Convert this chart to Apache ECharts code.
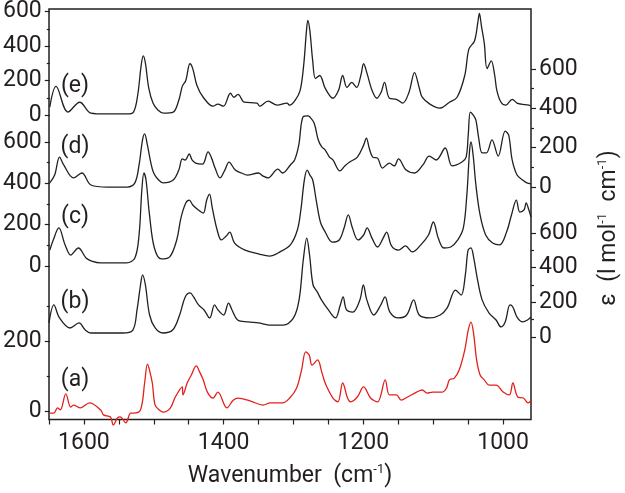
<!DOCTYPE html>
<html><head><meta charset="utf-8">
<script src="https://cdn.jsdelivr.net/npm/echarts@6/dist/echarts.min.js"></script>
<style>html,body{margin:0;padding:0;background:#fff}#c{width:625px;height:493px}</style>
</head><body><div id="c"></div>
<script>
// ---- data (wavenumber in cm-1, values in units of the axis each trace uses) ----
const traceNames = ['(e)', '(d)', '(c)', '(b)', '(a)'];
const xLabelValues = [1000, 1200, 1400, 1600];
const xTickValues = [1000, 1050, 1100, 1150, 1200, 1250, 1300, 1350, 1400, 1450, 1500, 1550, 1600, 1650];
const leftMajorTicks = [0, 200, 400, 600];
const leftMinorTicks = [100, 300, 500];
const bottomMajorTicks = [0, 200];
const bottomMinorTicks = [100, 300];

const waveE = [1650,1641,1624,1607,1591,1570,1540,1530,1524,1519,1516,1513,1508,1502,1495,1487,1473,1465,1460,1455,1449,1445,1439,1430,1416,1409,1401,1391,1386,1380,1371,1353,1349,1337,1324,1310,1306,1298,1291,1286,1282,1280,1277,1273,1269,1263,1255,1244,1236,1230,1224,1217,1210,1204,1200,1195,1188,1181,1175,1170,1163,1153,1144,1135,1127,1120,1116,1105,1091,1077,1066,1055,1049,1041,1036,1034,1031,1027,1023,1017,1012,1009,1003,996,987,980,974,963,960];
const valE = [46,166,17,74,11,6,6,17,114,286,343,303,154,69,29,11,17,86,166,200,297,269,171,103,51,63,51,126,103,120,74,69,51,80,57,69,57,86,143,286,486,549,486,314,211,229,154,97,143,229,160,189,160,229,297,240,143,97,131,189,97,91,69,131,246,154,103,63,40,74,103,229,383,429,543,589,514,417,269,314,229,143,74,57,91,69,63,57,51];

const waveD = [1650,1643,1636,1630,1616,1604,1591,1567,1539,1528,1522,1517,1514,1510,1505,1501,1494,1487,1473,1465,1460,1456,1450,1446,1441,1431,1423,1418,1413,1406,1399,1393,1384,1375,1367,1351,1344,1337,1323,1316,1305,1299,1293,1287,1280,1277,1271,1265,1260,1255,1249,1244,1234,1227,1220,1209,1200,1196,1192,1187,1180,1173,1163,1156,1150,1139,1127,1115,1106,1096,1083,1073,1059,1053,1050,1047,1043,1039,1035,1030,1024,1016,1007,997,992,987,980,972,966,960];
const valD = [402,440,527,489,426,450,392,382,382,402,489,610,639,585,498,450,416,402,416,464,518,513,542,513,498,493,552,522,474,426,464,503,464,450,440,450,435,426,469,450,489,513,585,721,726,721,692,610,576,561,527,513,460,484,503,527,585,619,571,527,522,474,498,484,518,464,450,489,532,513,571,484,503,527,634,745,731,706,619,547,547,610,532,653,633,513,440,416,402,397];

const waveC = [1650,1645,1637,1628,1620,1609,1598,1590,1577,1540,1528,1522,1518,1515,1512,1507,1500,1490,1478,1468,1462,1455,1450,1445,1437,1430,1425,1421,1417,1410,1404,1397,1392,1385,1370,1350,1335,1320,1305,1295,1290,1285,1281,1277,1273,1268,1262,1255,1245,1235,1228,1222,1216,1208,1200,1195,1188,1180,1172,1167,1160,1150,1140,1130,1118,1107,1100,1093,1085,1075,1065,1057,1052,1048,1046,1043,1039,1033,1025,1015,1005,995,988,981,976,970,967,963,960];
const valC = [77,126,184,102,53,87,39,24,15,15,39,150,368,450,416,247,87,34,44,126,232,305,319,295,271,256,319,348,281,174,126,145,164,111,77,58,48,68,102,174,271,416,464,440,416,319,213,164,116,126,184,247,184,126,150,184,135,92,135,164,97,77,97,68,102,150,213,135,87,92,126,184,344,561,600,537,392,247,150,111,102,164,247,319,261,271,305,271,237];

const waveB = [1650,1643,1635,1620,1607,1598,1590,1545,1530,1524,1519,1516,1512,1506,1498,1487,1473,1463,1455,1448,1443,1436,1428,1420,1413,1408,1400,1393,1388,1380,1365,1350,1335,1315,1300,1292,1286,1281,1277,1272,1266,1260,1250,1240,1233,1229,1224,1215,1205,1200,1195,1185,1175,1169,1162,1150,1138,1128,1120,1105,1090,1080,1068,1060,1054,1050,1046,1042,1037,1030,1020,1010,1003,997,990,986,980,972,965,960];
const valB = [81,185,110,52,81,40,23,23,40,156,300,358,300,127,52,23,40,127,231,254,231,185,156,110,185,156,127,196,156,98,87,81,69,69,110,214,444,571,473,300,260,214,156,110,185,231,156,144,214,300,214,127,185,231,144,110,127,214,127,110,127,168,271,242,358,502,514,456,340,214,138,98,58,87,185,173,115,87,98,115];

const waveA = [1650,1644,1639,1635,1627,1620,1616,1606,1593,1577,1573,1563,1559,1553,1549,1541,1534,1530,1520,1514,1510,1507,1503,1499,1493,1487,1477,1470,1460,1459,1453,1447,1440,1435,1430,1424,1416,1409,1396,1387,1380,1363,1344,1334,1316,1306,1296,1289,1283,1278,1274,1266,1260,1254,1244,1237,1230,1223,1219,1209,1200,1190,1180,1169,1163,1153,1146,1137,1124,1116,1109,1101,1087,1081,1077,1070,1063,1055,1050,1046,1042,1038,1033,1027,1020,1010,1000,991,986,979,971,964,960];
const valA = [-6,-6,9,3,49,11,17,9,23,3,-11,-17,-40,-20,-17,-34,-6,-6,3,80,134,117,80,17,3,-3,9,40,69,46,80,103,129,111,89,54,37,54,9,31,37,29,17,23,23,37,66,117,169,160,131,146,111,74,37,26,80,37,26,40,69,37,26,89,46,46,31,40,54,60,51,54,54,66,89,94,117,174,231,254,217,146,103,89,74,74,54,46,80,40,37,23,31];

// ---- chart ----
const INK = '#231f20', RED = '#e3201b', FONT = 'Roboto';
const L = 49, W = 482;
const gridBoxes = [
  {top: 9, height: 419},    // frame
  {top: 10, height: 105},   // left upper scale (e)
  {top: 142, height: 124},  // left middle scale (d, c)
  {top: 306, height: 105},  // left lower scale (a)
  {top: 69, height: 118},   // right upper scale
  {top: 233, height: 104}   // right lower scale (b)
];
const grids = gridBoxes.map((g, i) => Object.assign({left: L, width: W, containLabel: false}, g,
  i === 0 ? {show: true, borderColor: INK, borderWidth: 1.5, backgroundColor: 'transparent'} : {}));

const plain = v => String(v);
const xAxes = gridBoxes.map((g, i) => {
  const ax = {gridIndex: i, type: 'value', min: 960, max: 1650, inverse: true, show: i === 0,
    splitLine: {show: false}};
  if (i === 0) Object.assign(ax, {
    position: 'bottom',
    axisLine: {show: false},
    axisTick: {show: true, length: 5, customValues: xTickValues, lineStyle: {color: INK, width: 1.2}},
    axisLabel: {customValues: xLabelValues, formatter: plain, margin: 12, fontSize: 23, fontFamily: FONT, color: INK},
    name: '{n|Wavenumber  (cm}{s|-1}{n|)}',
    nameLocation: 'middle', nameGap: 44,
    nameTextStyle: {rich: {
      n: {fontSize: 23, fontFamily: FONT, color: INK, lineHeight: 26},
      s: {fontSize: 13, fontFamily: FONT, color: INK, verticalAlign: 'top', lineHeight: 13}
    }}
  });
  return ax;
});

function yPair(gridIndex, position, max, majors, minors) {
  const base = {gridIndex, type: 'value', min: 0, max, position, axisLine: {show: false}, splitLine: {show: false}};
  return [
    Object.assign({}, base, {
      axisTick: {show: true, length: 5, customValues: majors, lineStyle: {color: INK, width: 1.2}},
      axisLabel: {customValues: majors, formatter: plain, margin: 8, fontSize: 23, fontFamily: FONT, color: INK}
    }),
    Object.assign({}, base, {
      axisTick: {show: true, length: 3, customValues: minors, lineStyle: {color: INK, width: 1.2}},
      axisLabel: {show: false}
    })
  ];
}
const yAxes = [{gridIndex: 0, type: 'value', min: 0, max: 1, show: false}]
  .concat(yPair(1, 'left', 600, leftMajorTicks, leftMinorTicks))     // 1,2
  .concat(yPair(2, 'left', 600, leftMajorTicks, leftMinorTicks))     // 3,4
  .concat(yPair(3, 'left', 300, bottomMajorTicks, bottomMinorTicks)) // 5,6
  .concat(yPair(4, 'right', 600, leftMajorTicks, leftMinorTicks))    // 7,8
  .concat(yPair(5, 'right', 600, leftMajorTicks, leftMinorTicks));   // 9,10

function trace(ws, vs, xi, yi, color) {
  return {type: 'line', xAxisIndex: xi, yAxisIndex: yi, data: ws.map((w, k) => [w, vs[k]]),
    showSymbol: false, symbol: 'none', smooth: 0.35, clip: false, silent: true,
    lineStyle: {color, width: 1.3}};
}
const series = [
  trace(waveE, valE, 1, 1, INK),
  trace(waveD, valD, 2, 3, INK),
  trace(waveC, valC, 2, 3, INK),
  trace(waveB, valB, 5, 9, INK),
  trace(waveA, valA, 3, 5, RED)
];

const labelPos = [[75, 86], [75, 147], [75, 217], [75, 302], [75, 380]];
const graphic = traceNames.map((t, i) => ({type: 'text', x: labelPos[i][0], y: labelPos[i][1], silent: true,
  style: {text: t, font: '23px ' + FONT, fill: INK, align: 'center', verticalAlign: 'middle'}}));
graphic.push({type: 'text', x: 609, y: 228, rotation: Math.PI / 2, silent: true,
  style: {text: '{n|ε  (l mol}{s|-1}{n|  cm}{s|-1}{n|)}', align: 'center', verticalAlign: 'middle',
    rich: {n: {fontSize: 23, fontFamily: FONT, fill: INK, lineHeight: 26},
           s: {fontSize: 13, fontFamily: FONT, fill: INK, verticalAlign: 'top', lineHeight: 13}}}});

const chart = echarts.init(document.getElementById('c'), null, {renderer: 'canvas'});
chart.setOption({animation: false, backgroundColor: '#fff', grid: grids, xAxis: xAxes, yAxis: yAxes, series, graphic});
</script></body></html>
